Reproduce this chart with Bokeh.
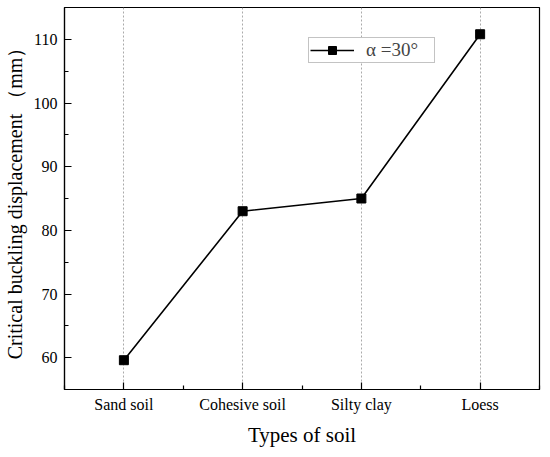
from bokeh.plotting import figure
from bokeh.models import FixedTicker, Range1d, Legend, LegendItem
from bokeh.embed import file_html
from bokeh.resources import INLINE

categories = ["Sand soil", "Cohesive soil", "Silty clay", "Loess"]
displacement = [59.6, 83.0, 85.0, 110.8]
y_ticks = [60, 70, 80, 90, 100, 110]
series_label = "\u03b1 =30\u00b0"

xs = list(range(1, len(categories) + 1))

p = figure(width=542, height=449, output_backend="svg", toolbar_location=None,
           x_range=Range1d(0.5, len(categories) + 0.5), y_range=Range1d(55, 115),
           min_border_left=63, min_border_right=3, min_border_top=7, min_border_bottom=58)
p.outline_line_color = "black"
p.outline_line_width = 1.2
p.background_fill_color = "white"
p.border_fill_color = "white"

font = "Liberation Serif"
p.xaxis.ticker = FixedTicker(ticks=xs, minor_ticks=[x + 0.5 for x in range(0, len(categories) + 1)])
p.xaxis.major_label_overrides = {i + 1: c for i, c in enumerate(categories)}
p.yaxis.ticker = FixedTicker(ticks=y_ticks, minor_ticks=[t + 5 for t in range(50, 115, 10)])
for ax in (p.xaxis, p.yaxis):
    ax.major_tick_in = 7
    ax.major_tick_out = 0
    ax.minor_tick_in = 4
    ax.minor_tick_out = 0
    ax.axis_line_color = "black"
    ax.axis_line_width = 1.2
    ax.major_tick_line_width = 1.2
    ax.minor_tick_line_width = 1.2
    ax.major_label_text_font = font
    ax.major_label_text_font_size = "16px"
    ax.major_label_text_font_style = "normal"
    ax.major_label_text_color = "black"
    ax.axis_label_text_font = font
    ax.axis_label_text_font_style = "normal"
    ax.axis_label_text_color = "black"
p.xaxis.axis_label_text_font_size = "21px"
p.yaxis.axis_label_text_font_size = "20px"
p.xaxis.axis_label = "Types of soil"
p.yaxis.axis_label = "Critical buckling displacement \uff08mm\uff09"
p.xaxis.major_label_standoff = 6
p.yaxis.major_label_standoff = 7
p.xaxis.axis_label_standoff = 7
p.yaxis.axis_label_standoff = 5

p.ygrid.grid_line_color = None
p.xgrid.grid_line_color = "#aaaaaa"
p.xgrid.grid_line_dash = "2 2"
p.xgrid.grid_line_width = 1

ln = p.line(xs, displacement, line_color="black", line_width=1.6)
sc = p.scatter(xs, displacement, marker="square", size=9, fill_color="black", line_color="black")

legend = Legend(items=[LegendItem(label=series_label, renderers=[ln, sc])],
                location=(244, 326), orientation="vertical")
legend.label_text_font = font
legend.label_text_font_size = "19px"
legend.border_line_color = "#888888"
legend.border_line_width = 1
legend.glyph_width = 44
legend.glyph_height = 20
legend.label_height = 20
legend.label_width = 67
legend.padding = 1
legend.margin = 0
legend.spacing = 0
legend.label_standoff = 12
legend.background_fill_alpha = 1
p.add_layout(legend, "center")

open("out.html", "w").write(file_html(p, INLINE))
